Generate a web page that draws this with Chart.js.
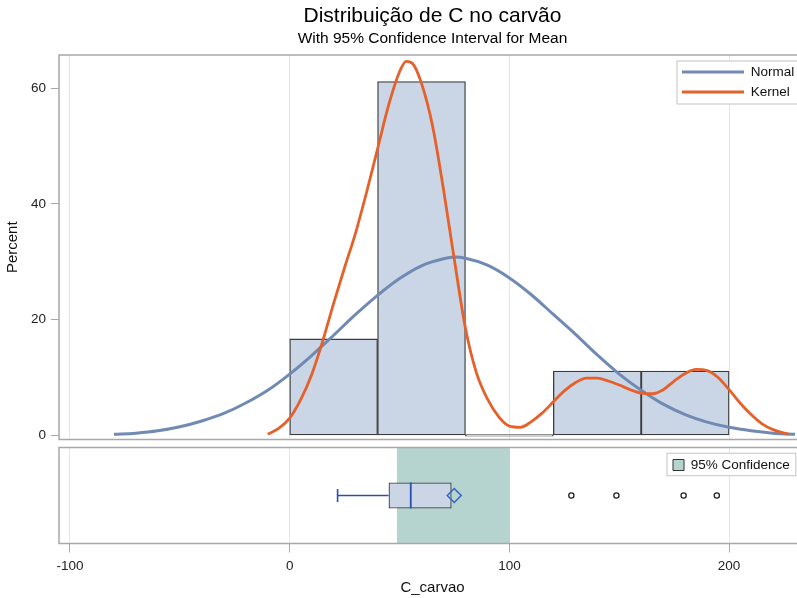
<!DOCTYPE html>
<html>
<head>
<meta charset="utf-8">
<script src="https://cdn.jsdelivr.net/npm/chart.js@4.4.1/dist/chart.umd.min.js"></script>
<style>
  html, body { margin: 0; padding: 0; background: #fff; overflow: hidden; width: 797px; height: 598px; }
  #wrap { position: relative; width: 797px; height: 598px; overflow: hidden; }
  canvas { position: absolute; left: 0; }
  #hist { top: 0; }
  #box { top: 443px; }
</style>
</head>
<body>
<div id="wrap">
  <canvas id="hist" width="830" height="443"></canvas>
  <canvas id="box" width="830" height="155"></canvas>
</div>
<script>
// Histogram of C_carvao: bin midpoints (bin width 40) and percent of observations
const binMidpoints = [20, 60, 100, 140, 180];
const binPercent = [16.67, 61.11, 0, 11.11, 11.11];

// Fitted normal curve (percent scale)
const normalX = [-80, -70, -60, -50, -40, -30, -20, -10, 0, 10, 20, 30, 40, 50, 60, 70, 75, 80,
                 90, 100, 110, 120, 130, 140, 150, 160, 170, 180, 190, 200, 210, 220, 230];
const normalPct = [0.2, 0.4, 0.8, 1.5, 2.5, 3.8, 5.6, 7.8, 10.6, 13.8, 17.3, 20.9, 24.2, 27.1, 29.3, 30.5, 30.8, 30.6,
                   29.4, 27.2, 24.3, 20.9, 17.5, 13.9, 10.6, 7.8, 5.4, 3.6, 2.3, 1.4, 0.8, 0.4, 0.2];

// Kernel density estimate (percent scale)
const kernelX = [-10, -5, 0, 5, 10, 15, 20, 25, 30, 35, 40, 45, 50, 53, 56, 60, 65, 70, 75, 80, 85, 90, 95,
                 100, 105, 110, 115, 120, 125, 130, 135, 140, 145, 150, 155, 160, 165, 170, 175, 180, 185,
                 190, 195, 200, 205, 210, 215, 220, 227];
const kernelPct = [0.2, 1.2, 3.0, 6.2, 10.5, 16.3, 22.8, 29.0, 35.0, 42.0, 49.5, 57.0, 62.8, 64.6, 64.2, 60.8, 53.5, 42.5, 30.2, 18.5, 10.8, 6.3, 3.3,
                   1.6, 1.4, 2.4, 3.9, 5.8, 7.7, 9.1, 9.9, 9.9, 9.4, 8.7, 7.9, 7.3, 7.2, 7.9, 9.4, 10.7, 11.4,
                   11.2, 10.0, 7.9, 5.6, 3.6, 2.0, 1.0, 0.2];

// Box plot summary and confidence interval for the mean
const boxCategory = ['C_carvao'];
const whiskerLow = 21.8;
const quartiles = [45.0, 55.1, 73.7];          // Q1, median, Q3
const meanValue = 74.9;
const outlierValues = [128.2, 148.7, 179.3, 194.4];
const meanCI = [49.0, 100.1];

// Axis ticks
const xTicks = [-100, 0, 100, 200];
const yTicks = [0, 20, 40, 60];
const X_MIN = -105, X_MAX = 235;

const FONT = "'Liberation Sans', Arial, sans-serif";
Chart.defaults.font.family = FONT;
Chart.defaults.color = '#222';

const AXIS_W = 59;
const NORMAL_COLOR = '#708ab4';
const KERNEL_COLOR = '#e6602a';
const BAR_FILL = '#cad5e5';
const BAR_EDGE = '#3c3c3c';
const BOX_BLUE = '#2a4fae';
const FRAME = '#a8a8a8';
const GRID = '#e5e5e5';

// Grey frame around each plot area
const framePlugin = {
  id: 'frame',
  afterDatasetsDraw(chart) {
    const { ctx, chartArea: a } = chart;
    ctx.save();
    ctx.strokeStyle = FRAME;
    ctx.lineWidth = 1.5;
    ctx.strokeRect(a.left, a.top, a.right - a.left, a.bottom - a.top);
    ctx.restore();
  }
};

// Puts the legend in the top-right corner of the plot area, on a framed white box
function insetLegend(o) {
  return {
    id: 'insetLegend',
    afterLayout(chart) {
      const lg = chart.legend, a = chart.chartArea;
      lg.left = a.right - o.right;
      lg.top = a.top + o.top;
      lg.right = lg.left + 240;
      lg.bottom = lg.top + 100;
      if (!lg._boxed) {
        lg._boxed = true;
        const drawItems = lg.draw.bind(lg);
        lg.draw = function () {
          const ctx = chart.ctx;
          ctx.save();
          ctx.font = o.fs + 'px ' + FONT;
          const tw = Math.max(...lg.legendItems.map(it => ctx.measureText(it.text).width));
          const n = lg.legendItems.length;
          const itemH = Math.max(o.fs, o.boxH);
          const x0 = lg.left + o.pad - o.bx;
          const y0 = lg.top + o.pad - o.by;
          const x1 = lg.left + o.pad + o.boxW + o.fs / 2 + tw + 6;
          const y1 = lg.top + o.pad + n * (itemH + o.pad) - o.pad + o.bb;
          ctx.fillStyle = '#fff';
          ctx.fillRect(x0, y0, x1 - x0, y1 - y0);
          ctx.strokeStyle = '#c4c4c4';
          ctx.lineWidth = 1;
          ctx.strokeRect(x0, y0, x1 - x0, y1 - y0);
          ctx.restore();
          drawItems();
        };
      }
    }
  };
}

const setXTicks = s => { s.ticks = xTicks.map(v => ({ value: v })); };
// Scales keep only the layout room asked for explicitly
const noEdgePadding = s => { s.paddingTop = 0; s.paddingBottom = 0; s.paddingLeft = 0; s.paddingRight = 0; };

// ---- Histogram with normal and kernel curves ----
new Chart(document.getElementById('hist'), {
  type: 'bar',
  data: {
    datasets: [
      {
        type: 'bar', label: 'Histogram',
        data: binMidpoints.map((x, i) => ({ x, y: binPercent[i] })),
        backgroundColor: BAR_FILL, borderColor: BAR_EDGE, borderWidth: 1.3, borderSkipped: false,
        barPercentage: 1, categoryPercentage: 1, minBarLength: 1.5, order: 3
      },
      {
        type: 'line', label: 'Normal',
        data: normalX.map((x, i) => ({ x, y: normalPct[i] })),
        borderColor: NORMAL_COLOR, backgroundColor: NORMAL_COLOR, borderWidth: 3,
        pointRadius: 0, fill: false, cubicInterpolationMode: 'monotone', order: 2
      },
      {
        type: 'line', label: 'Kernel',
        data: kernelX.map((x, i) => ({ x, y: kernelPct[i] })),
        borderColor: KERNEL_COLOR, backgroundColor: KERNEL_COLOR, borderWidth: 2.8,
        pointRadius: 0, fill: false, cubicInterpolationMode: 'monotone', order: 1
      }
    ]
  },
  options: {
    responsive: false, animation: false, devicePixelRatio: 1, events: [],
    layout: { autoPadding: false, padding: { left: 0, right: 24, top: 0, bottom: 3.5 } },
    scales: {
      x: {
        type: 'linear', min: X_MIN, max: X_MAX, offset: false,
        afterBuildTicks: setXTicks,
        afterFit: s => { noEdgePadding(s); s.height = 0; },
        ticks: { display: false },
        grid: { color: GRID, drawTicks: false, offset: false },
        border: { display: false }
      },
      y: {
        type: 'linear', min: -0.7, max: 65.7,
        afterBuildTicks: s => { s.ticks = yTicks.map(v => ({ value: v })); },
        afterFit: s => { noEdgePadding(s); s.width = AXIS_W; },
        ticks: { font: { size: 13.5 }, color: '#222', padding: 5 },
        grid: { drawOnChartArea: false, tickLength: 8, tickColor: FRAME },
        border: { display: false },
        title: { display: true, text: 'Percent', font: { size: 15 }, color: '#111', padding: { top: 4, bottom: 0 } }
      }
    },
    plugins: {
      title: {
        display: true, text: 'Distribuição de C no carvão', fullSize: false,
        font: { size: 21, weight: 'normal' }, color: '#000', padding: { top: 4, bottom: 0 }
      },
      subtitle: {
        display: true, text: 'With 95% Confidence Interval for Mean', fullSize: false,
        font: { size: 15.5, weight: 'normal' }, color: '#000', padding: { top: 0, bottom: 7.2 }
      },
      legend: {
        position: 'chartArea', align: 'start',
        labels: {
          font: { size: 13.5 }, color: '#111', boxWidth: 62, boxHeight: 3, padding: 6.5,
          filter: item => item.datasetIndex > 0,
          sort: (a, b) => a.datasetIndex - b.datasetIndex,
          generateLabels: chart => Chart.defaults.plugins.legend.labels.generateLabels(chart)
            .map(it => Object.assign(it, { lineWidth: 0 }))
        }
      },
      tooltip: { enabled: false }
    }
  },
  plugins: [framePlugin, insetLegend({ right: 130.5, top: 3.75, pad: 6.5, fs: 13.5, boxW: 62, boxH: 3, bx: 5, by: 4.25, bb: 5.25 })]
});

// ---- Box plot with confidence band for the mean ----
const cat = boxCategory[0];
new Chart(document.getElementById('box'), {
  type: 'bar',
  data: {
    labels: boxCategory,
    datasets: [
      {
        label: '95% Confidence', data: [meanCI],
        backgroundColor: '#b5d3cf', borderColor: '#333', borderWidth: 0,
        barPercentage: 1, categoryPercentage: 1, grouped: false, order: 10
      },
      {
        label: 'Whisker', data: [[whiskerLow, quartiles[0]]],
        backgroundColor: BOX_BLUE, borderWidth: 0,
        barPercentage: 0.016, categoryPercentage: 1, grouped: false, order: 9
      },
      {
        label: 'Box', data: [[quartiles[0], quartiles[2]]],
        backgroundColor: BAR_FILL, borderColor: BAR_EDGE, borderWidth: 1.3, borderSkipped: false,
        barPercentage: 0.27, categoryPercentage: 1, grouped: false, order: 8
      },
      {
        type: 'scatter', label: 'Median', data: [{ x: quartiles[1], y: cat }],
        pointStyle: 'line', pointRotation: 90, pointRadius: 13,
        pointBorderColor: BOX_BLUE, pointBorderWidth: 1.8, order: 4
      },
      {
        type: 'scatter', label: 'Whisker end', data: [{ x: whiskerLow, y: cat }],
        pointStyle: 'line', pointRotation: 90, pointRadius: 6.5,
        pointBorderColor: BOX_BLUE, pointBorderWidth: 1.6, order: 3
      },
      {
        type: 'scatter', label: 'Mean', data: [{ x: meanValue, y: cat }],
        pointStyle: 'rectRot', pointRadius: 7,
        pointBackgroundColor: 'rgba(0,0,0,0)', pointBorderColor: '#3561c4', pointBorderWidth: 1.5, order: 2
      },
      {
        type: 'scatter', label: 'Outliers', data: outlierValues.map(v => ({ x: v, y: cat })),
        pointStyle: 'circle', pointRadius: 2.6,
        pointBackgroundColor: '#fff', pointBorderColor: '#222', pointBorderWidth: 1.3, order: 1
      }
    ]
  },
  options: {
    indexAxis: 'y',
    responsive: false, animation: false, devicePixelRatio: 1, events: [],
    layout: { autoPadding: false, padding: { left: 0, right: 24, top: 4.5, bottom: 0 } },
    scales: {
      x: {
        type: 'linear', min: X_MIN, max: X_MAX, offset: false,
        afterBuildTicks: setXTicks,
        afterFit: s => { noEdgePadding(s); s.height = 54.5; },
        ticks: { font: { size: 13.5 }, color: '#222', padding: 5.5, maxRotation: 0, autoSkip: false },
        grid: { color: GRID, tickColor: FRAME, tickLength: 9 },
        border: { display: false },
        title: { display: true, text: 'C_carvao', font: { size: 15 }, color: '#111', padding: { top: 6, bottom: 1 } }
      },
      y: {
        type: 'category', offset: true,
        afterFit: s => { noEdgePadding(s); s.width = AXIS_W; },
        ticks: { display: false },
        grid: { display: false },
        border: { display: false }
      }
    },
    plugins: {
      legend: {
        position: 'chartArea', align: 'start',
        labels: {
          font: { size: 13.5 }, color: '#111', boxWidth: 11, boxHeight: 11, padding: 8,
          filter: item => item.datasetIndex === 0,
          generateLabels: chart => Chart.defaults.plugins.legend.labels.generateLabels(chart)
            .map(it => Object.assign(it, { strokeStyle: '#333', lineWidth: 1 }))
        }
      },
      tooltip: { enabled: false }
    }
  },
  plugins: [framePlugin, insetLegend({ right: 141, top: 2.75, pad: 8, fs: 13.5, boxW: 11, boxH: 11, bx: 6, by: 5, bb: 4 })]
});
</script>
</body>
</html>
